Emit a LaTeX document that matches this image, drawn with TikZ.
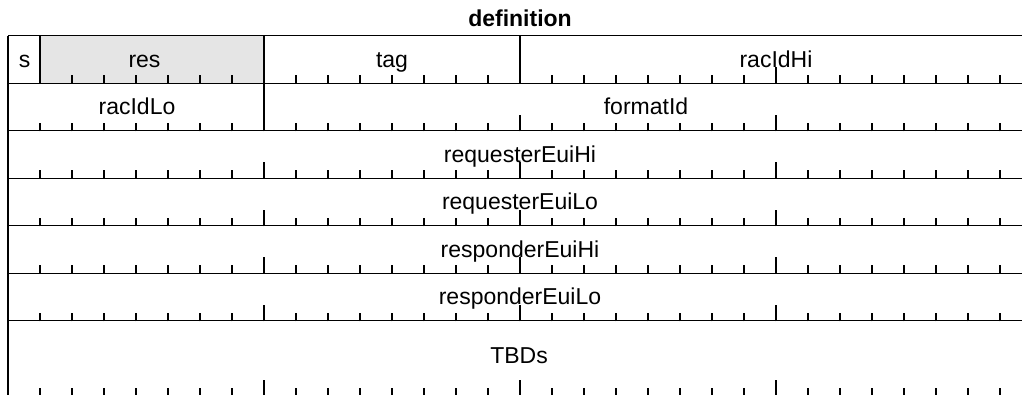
\documentclass[tikz,border=0pt]{standalone}
\usepackage{fontspec}
\setmainfont{Liberation Sans}
\begin{document}
\begin{tikzpicture}[x=1pt,y=-1pt,
  reg/.style={line width=1.3pt, black},
  tickmark/.style={line width=1.3pt, black},
  lbl/.style={anchor=base, inner sep=0pt, font=\fontsize{23}{27}\selectfont},
  ttl/.style={anchor=base, inner sep=0pt, font=\fontsize{23}{27}\selectfont\bfseries},
  resfill/.style={fill=black!10}]
\useasboundingbox (0,0) rectangle (1022,394);
\clip (0,0) rectangle (1022,394);

% reserved field shading
\fill[resfill] (40,35.8) rectangle (264,83.3);

% row separators (32 bits, 32 units per bit, starting at x=8)
\foreach \yy in {35.8,83.3,130.8,178.3,225.8,273.3,320.8,395.5}
  \draw[reg] (8,\yy) -- (1032,\yy);

% outer borders
\draw[reg] (8,35.8) -- (8,395.5);
\draw[reg] (1032,35.8) -- (1032,395.5);

% field boundaries
\draw[reg] (40,35.8) -- (40,83.3);
\draw[reg] (264,35.8) -- (264,83.3);
\draw[reg] (520,35.8) -- (520,83.3);
\draw[reg] (264,83.3) -- (264,130.8);

% bit ticks along the bottom of each row (long ones every byte)
\foreach \yb in {83.3,130.8,178.3,225.8,273.3,320.8,395.5}{
  \foreach \k in {1,...,31}{
    \pgfmathsetmacro\tl{mod(\k,8)==0 ? 16 : 8}
    \draw[tickmark] ({8+32*\k},{\yb+0.6}) -- ++(0,{-\tl-0.6});
  }
}

% labels
\node[ttl] (title) at (520,26.7) {definition};
\node[lbl] (fs) at (24.5,67) {s};
\node[lbl] (fres) at (144.5,67) {res};
\node[lbl] (ftag) at (392,67) {tag};
\node[lbl] (fhi) at (776,67) {racIdHi};
\node[lbl] (flo) at (137,114.5) {racIdLo};
\node[lbl] (ffmt) at (646,114.5) {formatId};
\node[lbl] (freqhi) at (520,162) {requesterEuiHi};
\node[lbl] (freqlo) at (520,209.5) {requesterEuiLo};
\node[lbl] (fresphi) at (520,257) {responderEuiHi};
\node[lbl] (fresplo) at (520,304.5) {responderEuiLo};
\node[lbl] (ftbd) at (519,363.3) {TBDs};
\end{tikzpicture}
\end{document}
